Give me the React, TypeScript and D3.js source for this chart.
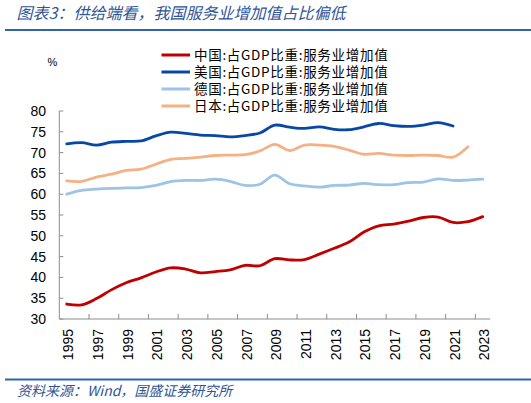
import React from 'react';
import * as d3 from 'd3';

const years = d3.range(1995, 2024).map(String);
const tickYears = years.filter((_, i) => i % 2 === 0);
const yTicks = [30, 35, 40, 45, 50, 55, 60, 65, 70, 75, 80];

const china = [33.6, 33.4, 34.9, 37.0, 38.7, 39.9, 41.3, 42.3, 42.0, 41.1, 41.4, 41.8, 42.9, 42.8, 44.5, 44.2, 44.3, 45.6, 47.0, 48.5, 50.9, 52.4, 52.8, 53.5, 54.4, 54.5, 53.2, 53.4, 54.6];
const usa = [72.1, 72.4, 71.8, 72.5, 72.7, 72.8, 74.0, 74.9, 74.6, 74.2, 74.1, 73.8, 74.1, 74.7, 76.6, 76.1, 75.8, 76.2, 75.6, 75.5, 76.2, 77.0, 76.5, 76.3, 76.6, 77.2, 76.4];
const germany = [60.0, 60.9, 61.2, 61.4, 61.5, 61.6, 62.1, 63.0, 63.3, 63.3, 63.6, 63.1, 62.1, 62.4, 64.6, 62.5, 62.0, 61.7, 62.1, 62.2, 62.6, 62.3, 62.3, 62.8, 62.9, 63.7, 63.3, 63.4, 63.6];
const japan = [63.2, 63.1, 64.1, 64.8, 65.7, 66.0, 67.2, 68.4, 68.6, 68.9, 69.3, 69.4, 69.5, 70.4, 72.0, 70.5, 71.8, 71.8, 71.5, 70.6, 69.6, 69.8, 69.4, 69.3, 69.4, 69.3, 68.9, 71.4];

const seriesNames = ['中国:占GDP比重:服务业增加值', '美国:占GDP比重:服务业增加值', '德国:占GDP比重:服务业增加值', '日本:占GDP比重:服务业增加值'];
const seriesValues = [china, usa, germany, japan];
const seriesColors = ['#C00000', '#0747A6', '#9DC3E6', '#F4B183'];

const W = 531;
const H = 403;
const margin = { left: 59.3, right: 40.8, top: 111, bottom: 84 };
const font = '"Liberation Sans", Arial, sans-serif';
const cjk = '"Noto Sans CJK SC", sans-serif';

const App: React.FC = () => {
  const x = d3.scaleBand<string>()
    .domain(years)
    .range([margin.left, W - margin.right]);
  const y = d3.scaleLinear()
    .domain([30, 80])
    .range([H - margin.bottom, margin.top]);
  const cx = (i: number) => (x(years[i]) as number) + x.bandwidth() / 2;

  // smoothed lines, like the spreadsheet's "smooth line" option
  const line = d3.line<number>()
    .x((_, i) => cx(i))
    .y(d => y(d))
    .curve(d3.curveCatmullRom.alpha(0.5));

  const axisColor = '#8c8c8c';
  const y0 = y(30);

  return (
    <div style={{ position: 'absolute', left: 0, top: 0 }}>
      <svg width={W} height={H} style={{ display: 'block', background: '#fff' }}>
        {/* title */}
        <text x={16.5} y={18.5} fontFamily={cjk} fontSize={16} fontStyle="italic" fill="#2F5597">
          图表3：供给端看，我国服务业增加值占比偏低
        </text>
        <line x1={5} x2={531} y1={30} y2={30} stroke="#2F64AE" strokeWidth={2} />

        {/* unit */}
        <text x={52.5} y={66} textAnchor="middle" fontFamily={font} fontSize={11} fill="#000">%</text>

        {/* legend */}
        {seriesNames.map((name, i) => (
          <g key={name} transform={`translate(0,${55 + i * 17})`}>
            <line x1={161.5} x2={190} y1={0} y2={0} stroke={seriesColors[i]} strokeWidth={3} />
            <text x={194} y={0} dy="0.36em" fontFamily={cjk} fontSize={13.5} fill="#000" letterSpacing={0.7}>{name}</text>
          </g>
        ))}

        {/* y axis */}
        <line x1={margin.left} x2={margin.left} y1={y(80)} y2={y0} stroke={axisColor} strokeWidth={1} />
        {yTicks.map(t => (
          <g key={t}>
            <line x1={margin.left} x2={margin.left + 4} y1={y(t)} y2={y(t)} stroke={axisColor} />
            <text x={46} y={y(t)} dy="0.36em" textAnchor="end" fontFamily={font} fontSize={14} fill="#000">{t}</text>
          </g>
        ))}

        {/* x axis */}
        <line x1={margin.left} x2={W - margin.right} y1={y0} y2={y0} stroke={axisColor} strokeWidth={1} />
        {d3.range(0, years.length, 2).slice(1).map(i => (
          <line key={i} x1={x(years[i]) as number} x2={x(years[i]) as number} y1={y0 - 5} y2={y0} stroke={axisColor} />
        ))}
        {tickYears.map(yr => {
          const px = (x(yr) as number) + x.bandwidth() / 2 + 1.5;
          return (
            <text key={yr} transform={`translate(${px},${y0 + 10}) rotate(-90)`} dy="0.36em" textAnchor="end"
              fontFamily={font} fontSize={14} fill="#000">{yr}</text>
          );
        })}

        {/* series */}
        {seriesValues.map((vals, i) => (
          <path key={i} d={line(vals) as string} fill="none" stroke={seriesColors[i]} strokeWidth={2.8} strokeLinejoin="round" strokeLinecap="round" />
        ))}

        {/* footer */}
        <line x1={5} x2={531} y1={379.5} y2={379.5} stroke="#2F64AE" strokeWidth={2} />
        <text x={17} y={396} fontFamily={cjk} fontSize={14} fontStyle="italic" fill="#2F5597">
          资料来源：Wind，国盛证券研究所
        </text>
      </svg>
    </div>
  );
};

export default App;
